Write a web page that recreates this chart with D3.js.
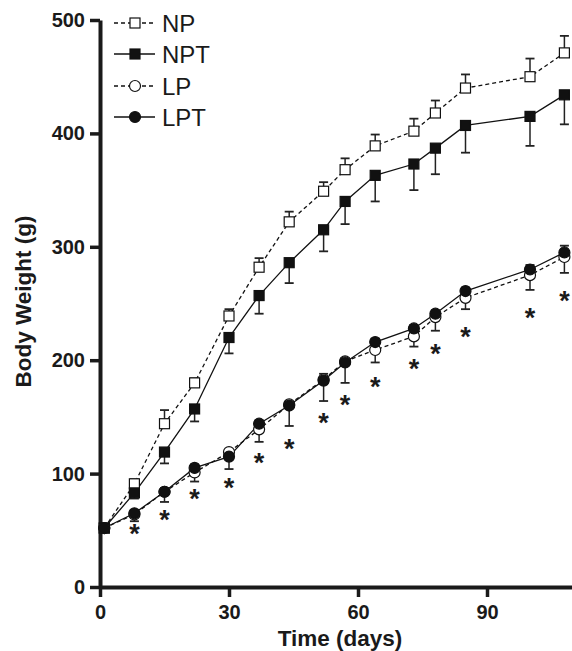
<!DOCTYPE html>
<html>
<head>
<meta charset="utf-8">
<script src="https://cdn.jsdelivr.net/npm/d3@7"></script>
<style>
  body { margin: 0; background: #fff; }
  svg { display: block; }
</style>
</head>
<body>
<svg id="vis-svg" width="572" height="651"></svg>
<script>
// chart data
var days = [1, 8, 15, 22, 30, 37, 44, 52, 57, 64, 73, 78, 85, 100, 108];

var npMean  = [52, 91, 144, 180, 239, 282, 322, 349, 368, 389, 402, 418, 440, 450, 471];
var npErr   = [2, 4, 12, 4, 6, 8, 9, 8, 10, 10, 11, 11, 12, 16, 15];
var nptMean = [52, 83, 119, 157, 220, 257, 286, 315, 340, 363, 373, 387, 407, 415, 434];
var nptErr  = [2, 5, 10, 11, 14, 16, 18, 19, 20, 23, 23, 23, 24, 26, 26];
var lpMean  = [52, 64, 84, 101, 119, 139, 161, 183, 199, 209, 221, 238, 255, 275, 291];
var lpErr   = [2, 6, 9, 8, 15, 11, 19, 19, 19, 11, 9, 12, 10, 13, 14];
var lptMean = [52, 65, 84, 105, 115, 144, 160, 182, 198, 216, 228, 241, 261, 280, 295];
var lptErr  = [2, 3, 3, 3, 3, 3, 3, 6, 4, 3, 3, 3, 3, 4, 6];

// significance marks (days and the weight level where the * sits)
var starDays = [8, 15, 22, 30, 37, 44, 52, 57, 64, 73, 78, 85, 100, 108];
var starAt   = [52, 65, 83, 93, 115, 127, 150, 166, 182, 198, 211, 226, 243, 258];

var xTicks = [0, 30, 60, 90];
var yTicks = [0, 100, 200, 300, 400, 500];

var series = [
  { name: "NP",  mean: npMean,  err: npErr,  dir: 1,  dash: true,  shape: "square", filled: false },
  { name: "NPT", mean: nptMean, err: nptErr, dir: -1, dash: false, shape: "square", filled: true },
  { name: "LP",  mean: lpMean,  err: lpErr,  dir: -1, dash: true,  shape: "circle", filled: false },
  { name: "LPT", mean: lptMean, err: lptErr, dir: 1,  dash: false, shape: "circle", filled: true }
];

var margin = { top: 20, left: 100 };
var font = "'Liberation Sans', Arial, Helvetica, sans-serif";

var svg = d3.select("#vis-svg");

var x = d3.scaleLinear()
    .domain([0, 110])
    .range([margin.left, margin.left + 110 * 4.3]);

var y = d3.scaleLinear()
    .domain([0, 500])
    .range([587, margin.top]);

// axes
var yAxis = svg.append("g")
    .attr("transform", "translate(" + margin.left + ",0)")
    .call(d3.axisLeft(y).tickValues(yTicks).tickSize(10).tickSizeOuter(0).tickPadding(5));

var xAxis = svg.append("g")
    .attr("transform", "translate(0," + y(0) + ")")
    .call(d3.axisBottom(x).tickValues(xTicks).tickSize(10).tickSizeOuter(0).tickPadding(8));

[yAxis, xAxis].forEach(function(ax){
  ax.select(".domain").attr("stroke", "#1a1a1a").attr("stroke-width", 4);
  ax.selectAll(".tick line").attr("stroke", "#1a1a1a").attr("stroke-width", 3.5);
  ax.selectAll(".tick text")
    .attr("fill", "#1a1a1a")
    .style("font-family", font)
    .style("font-weight", "bold")
    .style("font-size", "20px");
});

svg.append("text")
    .attr("transform", "translate(23," + ((y(0) + y(500)) / 2 - 2) + ") rotate(-90)")
    .attr("text-anchor", "middle")
    .attr("dominant-baseline", "central")
    .style("font-family", font)
    .style("font-weight", "bold")
    .style("font-size", "22.5px")
    .attr("fill", "#1a1a1a")
    .text("Body Weight (g)");

svg.append("text")
    .attr("x", 340)
    .attr("y", 646)
    .attr("text-anchor", "middle")
    .style("font-family", font)
    .style("font-weight", "bold")
    .style("font-size", "22.5px")
    .attr("fill", "#1a1a1a")
    .text("Time (days)");

var plot = svg.append("g");

function drawMarker(g, s, cx, cy){
  if(s.shape == "square"){
    g.append("rect")
      .attr("x", cx - 5).attr("y", cy - 5)
      .attr("width", 10).attr("height", 10)
      .attr("fill", s.filled ? "#111" : "#fff")
      .attr("stroke", "#111")
      .attr("stroke-width", 1.2);
  }else{
    g.append("circle")
      .attr("cx", cx).attr("cy", cy)
      .attr("r", 5.5)
      .attr("fill", s.filled ? "#111" : "#fff")
      .attr("stroke", "#111")
      .attr("stroke-width", 1.2);
  }
}

// lines + error bars first
series.forEach(function(s){
  var pts = days.map(function(d, i){ return { day: d, v: s.mean[i], e: s.err[i] }; });

  plot.append("path")
    .datum(pts)
    .attr("fill", "none")
    .attr("stroke", "#111")
    .attr("stroke-width", 1.3)
    .attr("stroke-dasharray", s.dash ? "4,3" : null)
    .attr("d", d3.line()
      .x(function(d){ return x(d.day); })
      .y(function(d){ return y(d.v); }));

  var eb = plot.append("g").selectAll("g")
    .data(pts)
    .enter()
    .append("g");

  eb.append("line")
    .attr("x1", function(d){ return x(d.day); })
    .attr("x2", function(d){ return x(d.day); })
    .attr("y1", function(d){ return y(d.v); })
    .attr("y2", function(d){ return y(d.v + s.dir * d.e); })
    .attr("stroke", "#222")
    .attr("stroke-width", 1.5);

  eb.append("line")
    .attr("x1", function(d){ return x(d.day) - 4.5; })
    .attr("x2", function(d){ return x(d.day) + 4.5; })
    .attr("y1", function(d){ return y(d.v + s.dir * d.e); })
    .attr("y2", function(d){ return y(d.v + s.dir * d.e); })
    .attr("stroke", "#222")
    .attr("stroke-width", 1.8);
});

// markers on top
series.forEach(function(s){
  var mg = plot.append("g");
  days.forEach(function(d, i){
    drawMarker(mg, s, x(d), y(s.mean[i]));
  });
});

// asterisks
plot.append("g").selectAll("text")
  .data(starDays)
  .enter()
  .append("text")
  .attr("x", function(d){ return x(d); })
  .attr("y", function(d, i){ return y(starAt[i]) + 0.57 * 27; })
  .attr("text-anchor", "middle")
  .style("font-family", font)
  .style("font-weight", "bold")
  .style("font-size", "27px")
  .attr("fill", "#1a1a1a")
  .text("*");

// legend
var legend = svg.append("g");
var rowY = [23, 54, 86, 117];
series.forEach(function(s, i){
  var ly = rowY[i];
  legend.append("line")
    .attr("x1", 114).attr("x2", 155)
    .attr("y1", ly).attr("y2", ly)
    .attr("stroke", "#111")
    .attr("stroke-width", 1.3)
    .attr("stroke-dasharray", s.dash ? "4,3" : null);
  drawMarker(legend, s, 135, ly);
  legend.append("text")
    .attr("x", 162)
    .attr("y", ly + 8.5)
    .style("font-family", font)
    .style("font-size", "24px")
    .attr("fill", "#1a1a1a")
    .text(s.name);
});
</script>
</body>
</html>
